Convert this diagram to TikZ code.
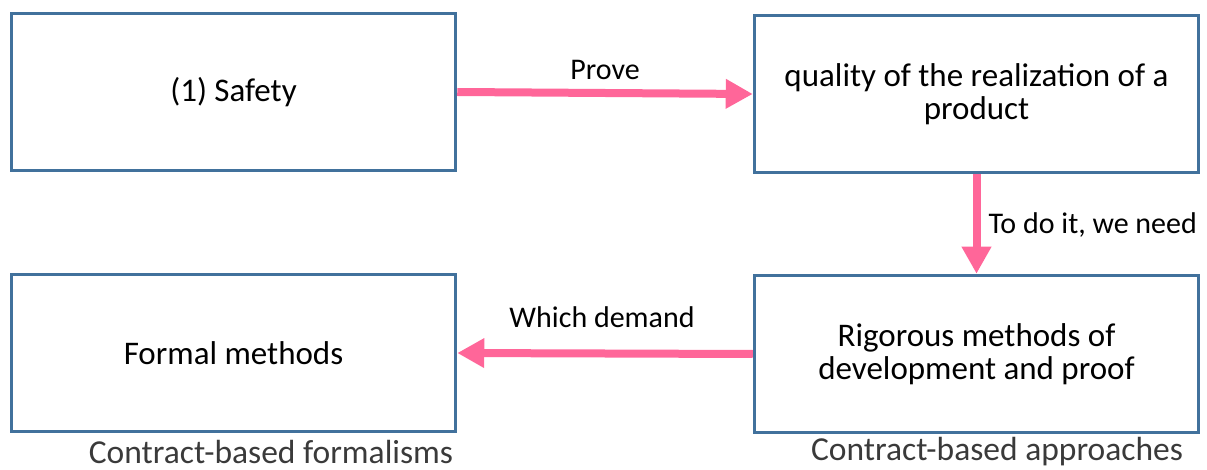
\documentclass[tikz,border=0pt]{standalone}
\usepackage{fontspec}
\setmainfont{Carlito}
\usetikzlibrary{arrows.meta}
\definecolor{boxblue}{HTML}{41719C}
\definecolor{arrowpink}{HTML}{FF6699}
\definecolor{captiongray}{HTML}{3A3A3A}
\tikzset{
    stagebox/.style={draw=boxblue, line width=3.5pt, minimum width=444pt, minimum height=157pt,
        text width=420pt, align=flush center, font=\fontsize{33}{33.5}\selectfont},
    flow/.style={arrowpink, line width=8pt, -{Triangle[length=27pt,width=28pt]}},
    flowlabel/.style={text=black, font=\fontsize{30}{33}\selectfont, inner sep=0pt},
    caption/.style={text=captiongray, font=\fontsize{33.5}{36}\selectfont, inner sep=0pt}
}
\begin{document}
\begin{tikzpicture}[x=1pt, y=-1pt]
                \useasboundingbox (0,0) rectangle (1207,470);
                \node[stagebox] (safety) at (233.5,92) {(1) Safety};
                \node[stagebox] (quality) at (976.5,94) {quality of the realization of a\\product};
                \node[stagebox] (formal) at (233.5,353) {Formal methods};
                \node[stagebox] (rigorous) at (976.5,354) {Rigorous methods of\\development and proof};
                \draw[flow] (safety.east) -- (quality.west) node[flowlabel, midway, above=9pt] {Prove};
                \draw[flow] (quality.south) -- (rigorous.north) node[flowlabel, midway, right=8pt, yshift=-1pt] {To do it, we need};
                \draw[flow] (rigorous.west) -- (formal.east) node[flowlabel, pos=0.51, above=22pt] {Which demand};
                \node[caption] (formalcap) at (271,452) {Contract-based formalisms};
                \node[caption] (approachcap) at (997,452) {Contract-based approaches};
            \end{tikzpicture}
\end{document}
